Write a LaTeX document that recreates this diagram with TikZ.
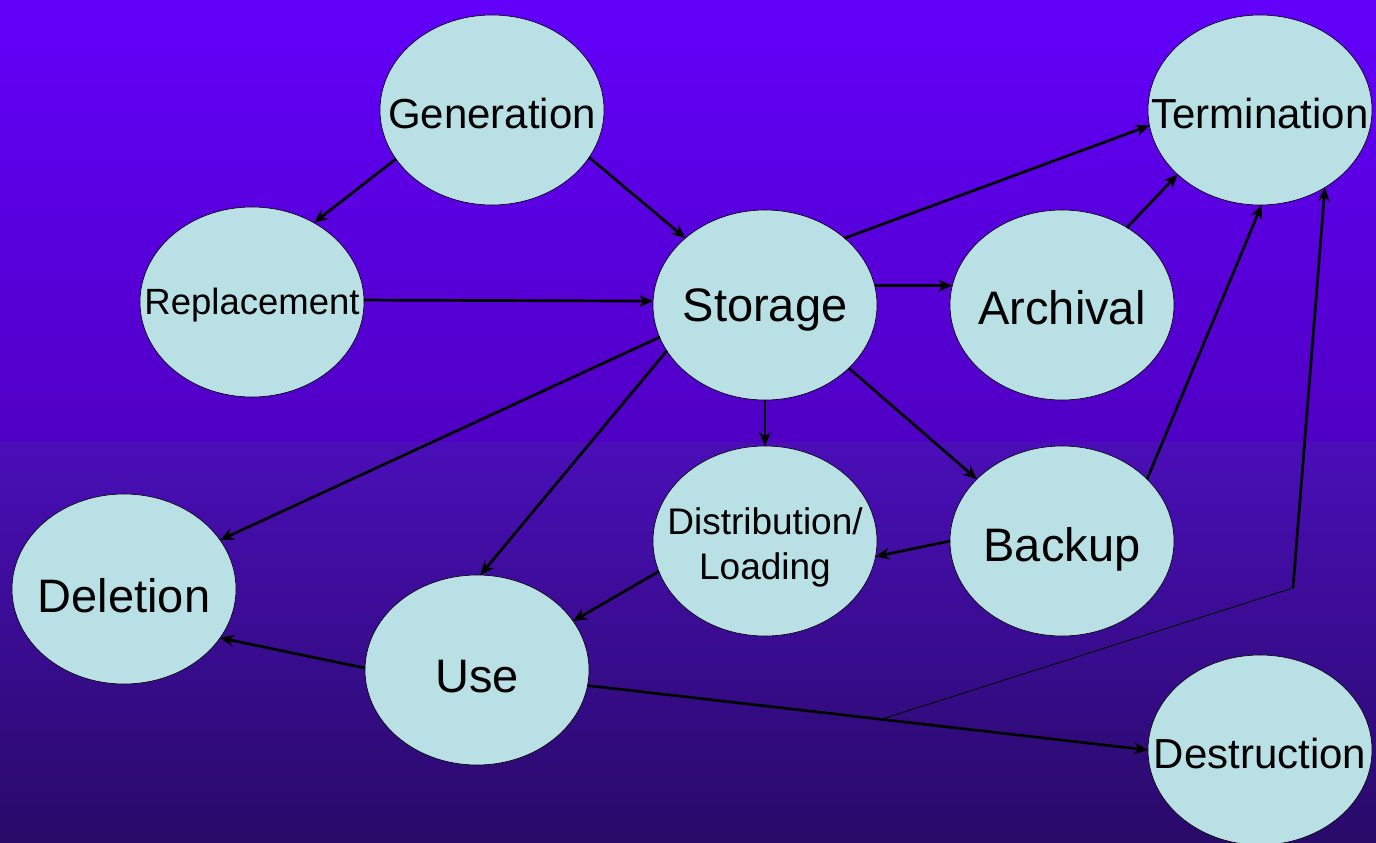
\documentclass[tikz,border=0pt]{standalone}
\usepackage{fontspec}
\setmainfont{Liberation Sans}
\usetikzlibrary{arrows.meta,shapes.geometric}
\definecolor{bgA}{RGB}{98,0,250}
\definecolor{bgB}{RGB}{80,0,196}
\definecolor{bgC}{RGB}{74,14,184}
\definecolor{bgD}{RGB}{40,10,104}
\definecolor{nodefill}{RGB}{185,224,228}
\newcommand{\zb}[2]{\makebox[0pt][c]{\raisebox{-#1pt}[\height][\depth]{#2}}}
\begin{document}
\begin{tikzpicture}[x=1pt,y=1pt,
  state/.style={ellipse,draw=black,line width=0.6pt,fill=nodefill,minimum width=224pt,minimum height=190pt,inner sep=0pt,outer sep=0pt},
  arr/.style={line width=2.7pt,-{Stealth[length=14pt,width=12pt]}},
  thin/.style={line width=0.9pt},
  bigtxt/.style={font=\fontsize{47}{50}\selectfont},
  midtxt/.style={font=\fontsize{42}{46}\selectfont},
  smalltxt/.style={font=\fontsize{37}{45}\selectfont}]
\useasboundingbox (0,0) rectangle (1376,-843);
\shade[top color=bgA,bottom color=bgB] (0,0) rectangle (1376,-442);
\shade[top color=bgC,bottom color=bgD] (0,-442) rectangle (1376,-843);

\node[state,midtxt]   (gen)  at (492,-110)  {\zb{3}{Generation}};
\node[state,midtxt]   (term) at (1260,-110) {\zb{3}{Termination}};
\node[state,font=\fontsize{36.5}{45}\selectfont] (rep)  at (252,-302)  {\zb{3}{Replacement}};
\node[state,bigtxt]   (stor) at (765,-305)  {\zb{5}{Storage}};
\node[state,bigtxt]   (arch) at (1062,-305) {\zb{3}{Archival}};
\node[state,smalltxt] (dist) at (765,-541)  {\zb{7}{\begin{tabular}{@{}c@{}}Distribution/\\Loading\end{tabular}}};
\node[state,bigtxt]   (back) at (1062,-541) {\zb{8}{Backup}};
\node[state,bigtxt]   (del)  at (124,-589)  {\zb{7}{Deletion}};
\node[state,bigtxt]   (use)  at (477,-670)  {\zb{7}{Use}};
\node[state,midtxt]   (des)  at (1260,-750) {\zb{3}{Destruction}};

\draw[arr] (gen.207) -- (rep.52);
\draw[arr] (gen.334) -- (stor.140);
\draw[arr] (rep.1) -- (stor.178);
\draw[arr] (stor.40) -- (term.188);
\draw[arr] (stor.10) -- (arch.170);
\draw[arr] (arch.50) -- (term.218);
\draw[arr] (stor.270) -- (dist.90);
\draw[arr] (stor.323) -- (back.144);
\draw[arr] (back.36) -- (term.271);
\draw[arr] (back.180) -- (dist.352);
\draw[arr] (stor.197) -- (del.27);
\draw[arr] (stor.205) -- (use.88);
\draw[arr] (dist.196) -- (use.27);
\draw[arr] (use.179) -- (del.333);
\draw[arr] (use.352) -- (des.180) coordinate[pos=0.524] (split);
\coordinate (bend) at (1293,-588);
\draw[thin] (split) -- (bend);
\draw[arr] (bend) -- (term.310);
\end{tikzpicture}
\end{document}
